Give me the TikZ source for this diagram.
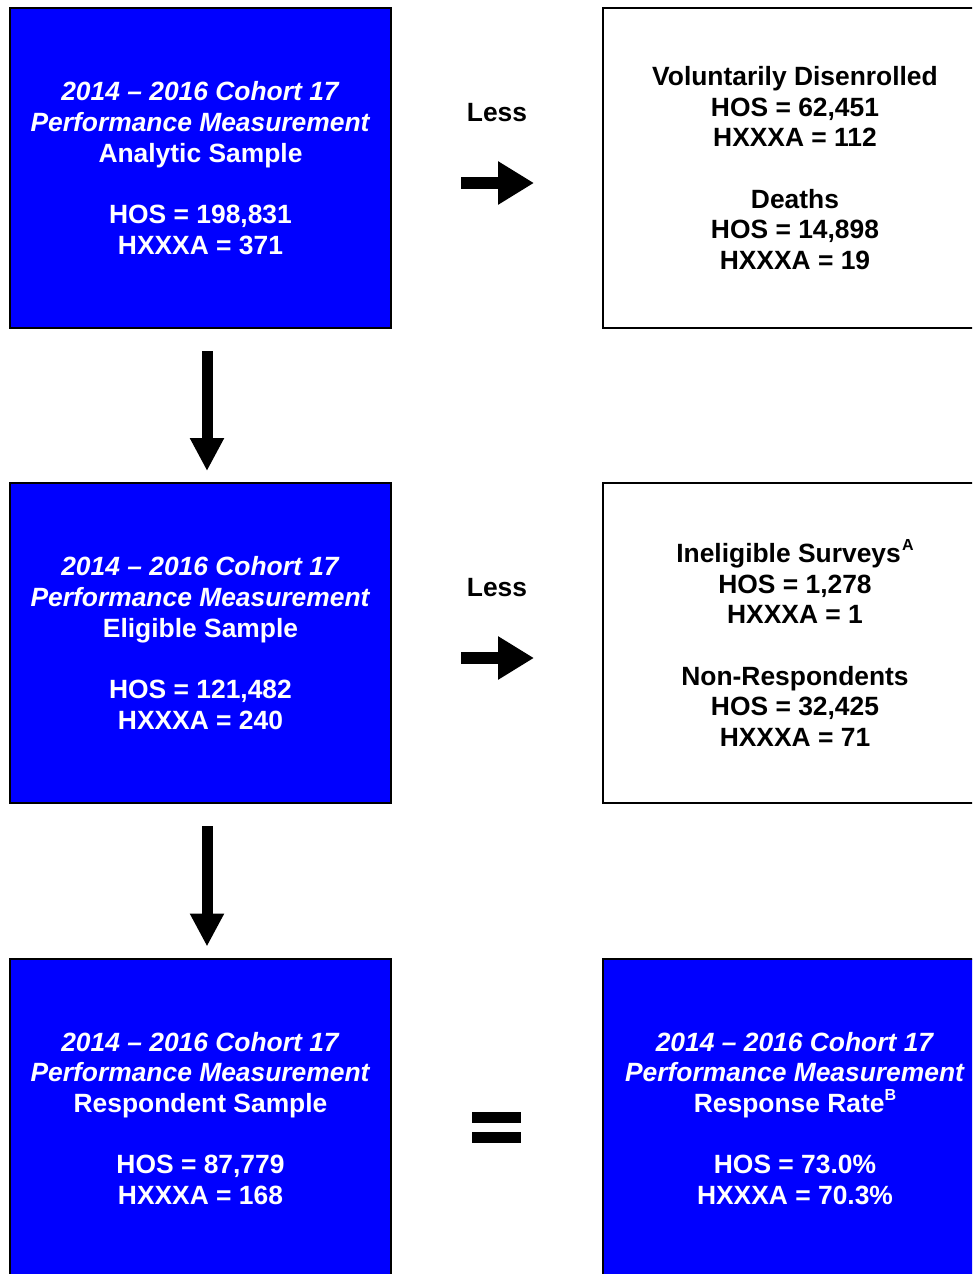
\documentclass[tikz,border=0pt]{standalone}
\usepackage{fontspec}
\setmainfont{Liberation Sans}
\usetikzlibrary{arrows.meta}

\newdimen\pxu \pxu=0.75pt
\definecolor{sampleblue}{RGB}{0,0,255}
\newcommand{\skipline}{\\[23pt]}
\newcommand{\supnote}[1]{\raisebox{0.45em}{\fontsize{12}{12}\selectfont #1}}

\tikzset{
  samplebox/.style={draw=black, line width=2\pxu, fill=sampleblue, text=white,
    minimum width=381\pxu, minimum height=320\pxu, inner sep=0pt, align=center,
    font=\fontsize{19.8}{23}\selectfont\bfseries},
  lessbox/.style={samplebox, fill=white, text=black, minimum width=384\pxu},
  lesslabel/.style={font=\fontsize{19.8}{23}\selectfont\bfseries},
  sidearrow/.style={line width=9pt, -{Triangle[width=30.75pt,length=27pt]}},
  downarrow/.style={line width=8.25pt, -{Triangle[width=24pt,length=24.75pt]}}
}

\begin{document}
\begin{tikzpicture}[x=0.75pt,y=-0.75pt]
\useasboundingbox (0,0) rectangle (972,1274);
\clip (0,0) rectangle (972,1274);

% left column
\node[samplebox] (analytic) at (200.5,168) {\textit{2014 – 2016 Cohort 17}\\ \textit{Performance Measurement}\\ Analytic Sample\skipline HOS = 198,831\\ HXXXA = 371};
\node[samplebox] (eligible) at (200.5,643) {\textit{2014 – 2016 Cohort 17}\\ \textit{Performance Measurement}\\ Eligible Sample\skipline HOS = 121,482\\ HXXXA = 240};
\node[samplebox] (respondent) at (200.5,1118.5) {\textit{2014 – 2016 Cohort 17}\\ \textit{Performance Measurement}\\ Respondent Sample\skipline HOS = 87,779\\ HXXXA = 168};

% right column
\node[lessbox] (disenrolled) at (795,168) {Voluntarily Disenrolled\\ HOS = 62,451\\ HXXXA = 112\skipline Deaths\\ HOS = 14,898\\ HXXXA = 19};
\node[lessbox] (ineligible) at (795,643) {Ineligible Surveys\kern1pt\supnote{A}\\ HOS = 1,278\\ HXXXA = 1\skipline Non-Respondents\\ HOS = 32,425\\ HXXXA = 71};
\node[samplebox, minimum width=384\pxu] (rate) at (795,1118.5) {\textit{2014 – 2016 Cohort 17}\\ \textit{Performance Measurement}\\ Response Rate\supnote{B}\skipline HOS = 73.0\%\\ HXXXA = 70.3\%};

% less arrows
\node[lesslabel] (less1) at (497,113) {Less};
\node[lesslabel] (less2) at (497,588) {Less};
\coordinate (l1a) at (461,183); \coordinate (l1b) at (534,183);
\coordinate (l2a) at (461,658); \coordinate (l2b) at (534,658);
\draw[sidearrow] (l1a) -- (l1b);
\draw[sidearrow] (l2a) -- (l2b);

% down arrows
\draw[downarrow] ([xshift=6.5\pxu,yshift=-22\pxu]analytic.south) -- ([xshift=6.5\pxu,yshift=11\pxu]eligible.north);
\draw[downarrow] ([xshift=6.5\pxu,yshift=-22\pxu]eligible.south) -- ([xshift=6.5\pxu,yshift=11\pxu]respondent.north);

% equals sign
\fill (472,1112) rectangle (521,1123);
\fill (472,1132) rectangle (521,1143);
\end{tikzpicture}
\end{document}
